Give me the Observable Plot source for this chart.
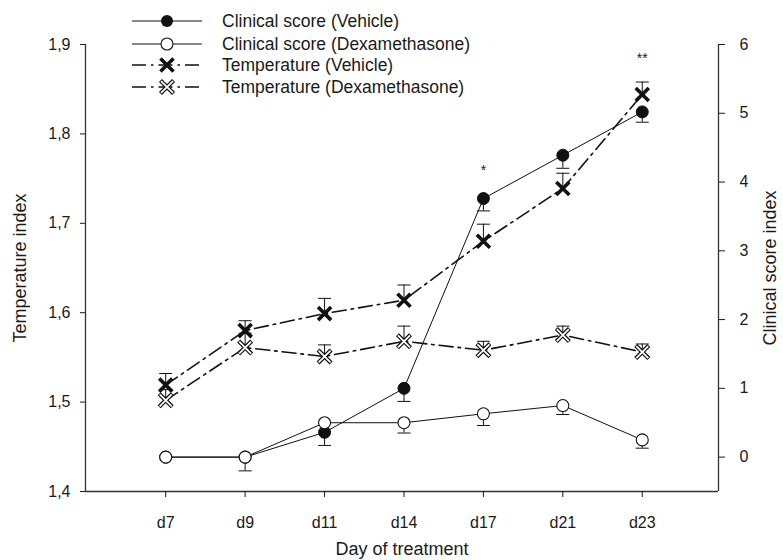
<!DOCTYPE html>
<html><head><meta charset="utf-8">
<script src="https://cdn.jsdelivr.net/npm/d3@7"></script>
<script src="https://cdn.jsdelivr.net/npm/@observablehq/plot@0.6"></script>
<style>body{margin:0;background:#fff} #chart{width:783px;height:560px}</style>
</head><body><div id="chart"></div>
<script>
// ---- data ----
const days = ["d7","d9","d11","d14","d17","d21","d23"];
const tempVehicle   = [1.519,1.580,1.599,1.614,1.680,1.739,1.844];
const tempVehicleSE = [0.013,0.011,0.017,0.017,0.019,0.017,0.014];
const tempDexa      = [1.502,1.561,1.551,1.568,1.558,1.575,1.556];
const tempDexaSE    = [0.012,0.016,0.013,0.017,0.010,0.010,0.009];
const clinVehicle   = [0,0,0.36,1.00,3.76,4.39,5.02];
const clinVehicleSE = [0,0.2,0.19,0.19,0.18,0.19,0.15];
const clinDexa      = [0,0,0.50,0.50,0.63,0.75,0.25];
const clinDexaSE    = [0,0,0,0.15,0.17,0.13,0.12];
const tempTicks = [1.4,1.5,1.6,1.7,1.8,1.9];
const clinTicks = [0,1,2,3,4,5,6];
const sigDays   = ["d17","d23"];
const sigLabels = ["*","**"];
const sigY      = [1.7595,1.8848];
const legendLabels = ["Clinical score (Vehicle)","Clinical score (Dexamethasone)","Temperature (Vehicle)","Temperature (Dexamethasone)"];

// ---- scales ----
const tDomain = [1.4, 1.9];
const cDomain = [-0.5, 6];
const xDomain = [-1.01, 6.96];
const toT = c => tDomain[0] + (c - cDomain[0]) * (tDomain[1]-tDomain[0])/(cDomain[1]-cDomain[0]);
const fromT = t => (t - tDomain[0]) * (cDomain[1]-cDomain[0])/(tDomain[1]-tDomain[0]) + cDomain[0];

const rows = (vals, se, kind) => vals.map((v,i) => {
  if (kind === "temp") return {i, v, end: v + se[i], se: se[i]};
  return {i, v: toT(v), end: toT(v - se[i]), se: se[i]};
});
const tv = rows(tempVehicle, tempVehicleSE, "temp");
const td = rows(tempDexa, tempDexaSE, "temp");
const cv = rows(clinVehicle, clinVehicleSE, "clin");
const cd = rows(clinDexa, clinDexaSE, "clin");
const bars = [...tv, ...td, ...cv, ...cd].filter(d => d.se > 0);
const sig = sigDays.map((d,k) => ({i: days.indexOf(d), y: sigY[k], label: sigLabels[k]}));

const cap = {draw(ctx, size){ const w = Math.sqrt(size/Math.PI); ctx.moveTo(-w,0); ctx.lineTo(w,0); }};
const dash = "14,5,2.5,5";
const font = "'Liberation Sans', Arial, sans-serif";

const plot = Plot.plot({
  width: 783, height: 560,
  marginTop: 44, marginBottom: 69, marginLeft: 85, marginRight: 65,
  x: {type: "linear", domain: xDomain},
  y: {domain: tDomain},
  style: {fontFamily: font, fontSize: "16px", color: "#1a1a1a", background: "#fff"},
  marks: [
    Plot.ruleX([xDomain[0], xDomain[1]], {stroke: "#333", strokeWidth: 1.3}),
    Plot.ruleY([tDomain[0]], {stroke: "#333", strokeWidth: 1.3}),
    // error bars
    Plot.ruleX(bars, {x: "i", y1: "v", y2: "end", stroke: "#111", strokeWidth: 1}),
    Plot.dot(bars, {x: "i", y: "end", symbol: cap, r: 6.5, fill: "none", stroke: "#111", strokeWidth: 1}),
    // temperature lines
    Plot.line(tv, {x: "i", y: "v", stroke: "#111", strokeWidth: 1.6, strokeDasharray: dash}),
    Plot.line(td, {x: "i", y: "v", stroke: "#111", strokeWidth: 1.6, strokeDasharray: dash}),
    // clinical lines
    Plot.line(cv, {x: "i", y: "v", stroke: "#111", strokeWidth: 1}),
    Plot.line(cd, {x: "i", y: "v", stroke: "#111", strokeWidth: 1}),
    // temperature markers
    Plot.dot(td, {x: "i", y: "v", symbol: "times", r: 6, stroke: "#111", strokeWidth: 4.2}),
    Plot.dot(td, {x: "i", y: "v", symbol: "times", r: 5.5, stroke: "#fff", strokeWidth: 1.8}),
    Plot.dot(tv, {x: "i", y: "v", symbol: "times", r: 6, stroke: "#111", strokeWidth: 3.6}),
    // clinical markers
    Plot.dot(cv, {x: "i", y: "v", r: 6, fill: "#111", stroke: "#111", strokeWidth: 1}),
    Plot.dot(cd, {x: "i", y: "v", r: 6, fill: "#fff", stroke: "#111", strokeWidth: 1.1}),
    // significance
    Plot.text(sig, {x: "i", y: "y", text: "label", fontSize: 14, fill: "#1a1a1a"}),
    // axes
    Plot.axisY({anchor: "left", ticks: tempTicks, tickFormat: d => d.toFixed(1).replace(".", ","), tickSize: 5, tickPadding: 10, label: null, fontSize: 16}),
    Plot.axisY({anchor: "right", ticks: clinTicks.map(toT), tickFormat: d => String(Math.round(fromT(d))), tickSize: 6, tickPadding: 15, label: null, fontSize: 16}),
    Plot.axisX({ticks: days.map((d,i) => i), tickFormat: i => days[i], tickSize: 6, tickPadding: 19, label: null, fontSize: 16}),
    // axis titles
    Plot.text(["Temperature index"], {frameAnchor: "left", textAnchor: "middle", rotate: -90, dx: -65, fontSize: 18, fill: "#1a1a1a"}),
    Plot.text(["Clinical score index"], {frameAnchor: "right", textAnchor: "middle", rotate: -90, dx: 52, fontSize: 18, fill: "#1a1a1a"}),
    Plot.text(["Day of treatment"], {frameAnchor: "bottom", textAnchor: "middle", dy: 63, fontSize: 18, fill: "#1a1a1a"})
  ]
});
document.getElementById("chart").appendChild(plot);

// ---- legend ----
const svg = d3.select(plot);
const lg = svg.append("g").attr("font-family", font).attr("font-size", 17.5).attr("fill", "#1a1a1a").attr("text-anchor", "start");
const rowY = [21, 44, 65, 87];
const x0 = 132, x1 = 202, xm = 167, xt = 222;
legendLabels.forEach((lab, k) => {
  const y = rowY[k];
  const isTemp = k >= 2;
  lg.append("line").attr("x1", x0).attr("x2", x1).attr("y1", y).attr("y2", y)
    .attr("stroke", "#111").attr("stroke-width", isTemp ? 1.6 : 1)
    .attr("stroke-dasharray", isTemp ? dash : null);
  if (k === 0) lg.append("circle").attr("cx", xm).attr("cy", y).attr("r", 6).attr("fill", "#111");
  if (k === 1) lg.append("circle").attr("cx", xm).attr("cy", y).attr("r", 6).attr("fill", "#fff").attr("stroke", "#111").attr("stroke-width", 1.1);
  if (k >= 2) {
    const p = d3.symbol(d3.symbolTimes, Math.PI * 36)();
    lg.append("path").attr("d", p).attr("transform", `translate(${xm},${y})`).attr("fill", "none").attr("stroke", "#111").attr("stroke-width", k === 2 ? 3.6 : 4.2);
    if (k === 3) lg.append("path").attr("d", d3.symbol(d3.symbolTimes, Math.PI * 5.5 * 5.5)()).attr("transform", `translate(${xm},${y})`).attr("fill", "none").attr("stroke", "#fff").attr("stroke-width", 1.8);
  }
  lg.append("text").attr("x", xt).attr("y", y).attr("dy", "0.35em").attr("text-anchor", "start").text(lab);
});
</script>
</body></html>
